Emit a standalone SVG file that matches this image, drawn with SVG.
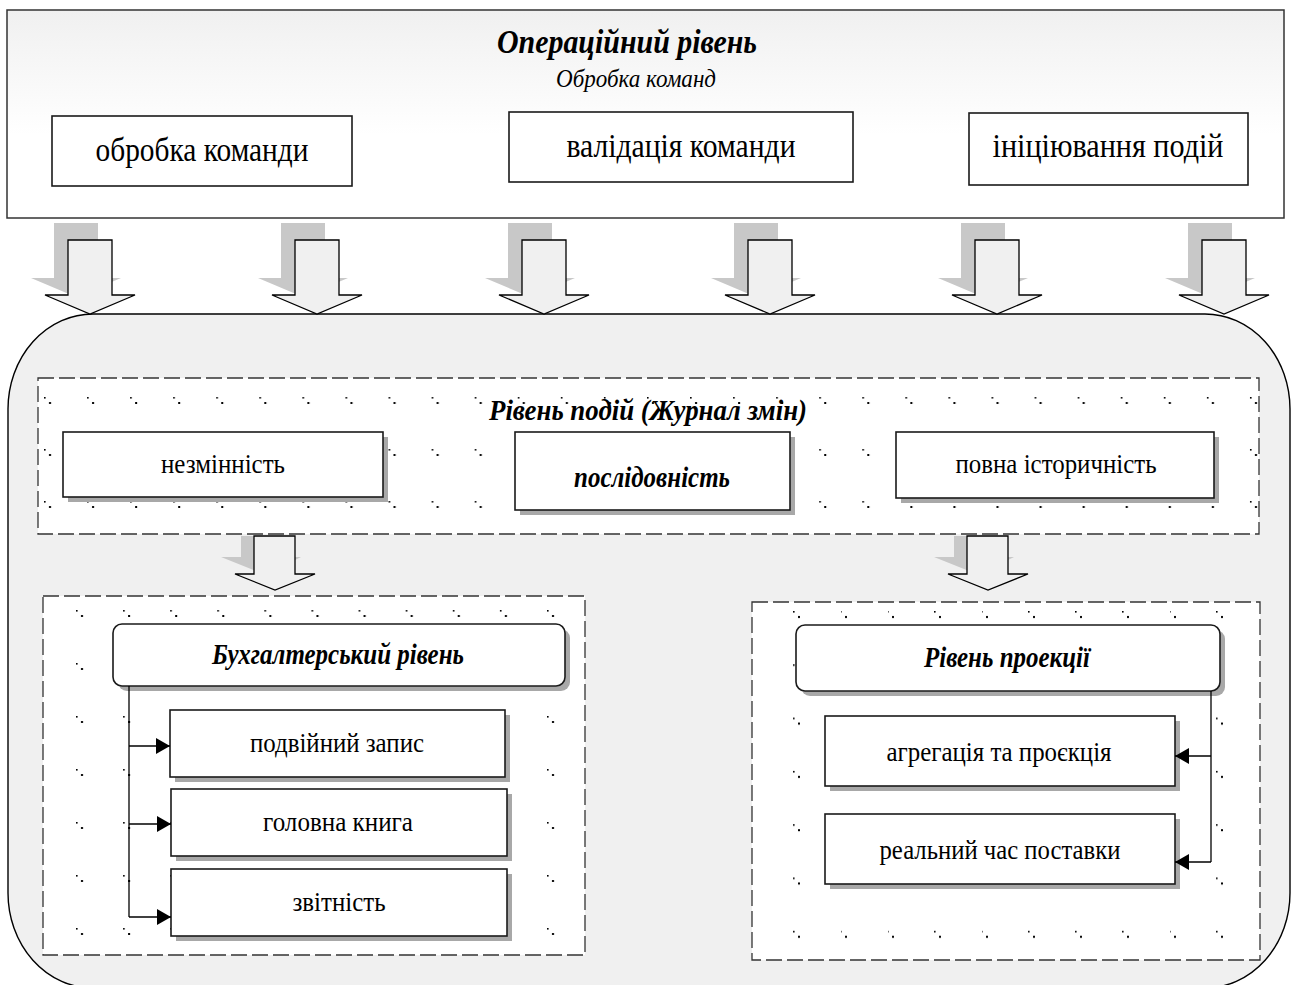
<svg xmlns="http://www.w3.org/2000/svg" width="1291" height="985" viewBox="0 0 1291 985">
<style>
.t{font-family:"Liberation Serif","Times New Roman",serif;fill:#000;text-anchor:middle}
.bi{font-weight:bold;font-style:italic}
.node{fill:#fff;stroke:#1a1a1a;stroke-width:1.6}
.sh{fill:#a8a8a8}
.dash{fill:#fff;stroke:#333;stroke-width:1.3;stroke-dasharray:16 5}
.barrow{fill:#f0f0f0;stroke:#000;stroke-width:1.3}
.bshadow{fill:#c8c8c8}
.conn{fill:none;stroke:#000;stroke-width:1.3}
</style>
<defs>
<linearGradient id="topgrad" x1="0" y1="0" x2="0" y2="1">
<stop offset="0" stop-color="#f0f0f0"/>
<stop offset="0.6" stop-color="#ffffff"/>
<stop offset="1" stop-color="#ffffff"/>
</linearGradient>
<pattern id="dotsA" patternUnits="userSpaceOnUse" x="44" y="397" width="43.07" height="52">
<rect x="0" y="0" width="1.6" height="1.6" fill="#000"/>
<rect x="5" y="5" width="2" height="2" fill="#000"/>
</pattern>
<pattern id="dotsB" patternUnits="userSpaceOnUse" x="76" y="610" width="47.1" height="53">
<rect x="0" y="0" width="1.6" height="1.6" fill="#000"/>
<rect x="5" y="5" width="2" height="2" fill="#000"/>
</pattern>
<pattern id="dotsC" patternUnits="userSpaceOnUse" x="793" y="611" width="47" height="53.3">
<rect x="0" y="0" width="1.6" height="1.6" fill="#000"/>
<rect x="5" y="5" width="2" height="2" fill="#000"/>
</pattern>
<marker id="ah" markerUnits="userSpaceOnUse" markerWidth="15" markerHeight="16" refX="14" refY="8" orient="auto">
<path d="M0,0 L14,8 L0,16 Z" fill="#000"/>
</marker>
</defs>

<!-- Operational level -->
<g id="operational-level">
<rect x="7" y="10" width="1277" height="208" fill="url(#topgrad)" stroke="#333" stroke-width="1.5"/>
<text class="t bi" x="627" y="53" font-size="33" textLength="260" lengthAdjust="spacingAndGlyphs">Операційний рівень</text>
<text class="t" x="636" y="87" font-size="26" font-style="italic" textLength="160" lengthAdjust="spacingAndGlyphs">Обробка команд</text>
</g>
<g id="node-obrobka">
<rect class="node" x="52" y="116" width="300" height="70"/>
<text class="t" x="202" y="161" font-size="34" textLength="213" lengthAdjust="spacingAndGlyphs">обробка команди</text>
</g>
<g id="node-validatsiia">
<rect class="node" x="509" y="112" width="344" height="70"/>
<text class="t" x="681" y="157" font-size="34" textLength="229" lengthAdjust="spacingAndGlyphs">валідація команди</text>
</g>
<g id="node-initsiiuvannia">
<rect class="node" x="969" y="113" width="279" height="72"/>
<text class="t" x="1108" y="157" font-size="34" textLength="231" lengthAdjust="spacingAndGlyphs">ініціювання подій</text>
</g>

<!-- block arrow shadows (top) -->
<g id="top-arrow-shadows">
<path class="bshadow" d="M54,223 H98 V278 H121 L76,297 L31,278 H54 Z"/>
<path class="bshadow" d="M281,223 H325 V278 H348 L303,297 L258,278 H281 Z"/>
<path class="bshadow" d="M508,223 H552 V278 H575 L530,297 L485,278 H508 Z"/>
<path class="bshadow" d="M734,223 H778 V278 H801 L756,297 L711,278 H734 Z"/>
<path class="bshadow" d="M961,223 H1005 V278 H1028 L983,297 L938,278 H961 Z"/>
<path class="bshadow" d="M1188,223 H1232 V278 H1255 L1210,297 L1165,278 H1188 Z"/>
</g>

<!-- big container -->
<g id="container">
<rect x="8" y="314" width="1282" height="674" rx="85" ry="95" fill="#f0f0f0" stroke="#000" stroke-width="1.4"/>
</g>

<!-- top block arrows -->
<g id="top-arrows">
<path class="barrow" d="M68,240 H112 V295 H135 L90,314 L45,295 H68 Z"/>
<path class="barrow" d="M295,240 H339 V295 H362 L317,314 L272,295 H295 Z"/>
<path class="barrow" d="M522,240 H566 V295 H589 L544,314 L499,295 H522 Z"/>
<path class="barrow" d="M748,240 H792 V295 H815 L770,314 L725,295 H748 Z"/>
<path class="barrow" d="M975,240 H1019 V295 H1042 L997,314 L952,295 H975 Z"/>
<path class="barrow" d="M1202,240 H1246 V295 H1269 L1224,314 L1179,295 H1202 Z"/>
</g>

<!-- events level -->
<g id="events-level">
<rect class="dash" x="38" y="378" width="1221" height="156"/>
<rect x="39" y="379" width="1219" height="154" fill="url(#dotsA)"/>
<text class="t bi" x="648" y="420" font-size="30" textLength="318" lengthAdjust="spacingAndGlyphs">Рівень подій (Журнал змін)</text>
</g>
<g id="node-nezminnist">
<rect class="sh" x="68" y="437" width="320" height="65"/>
<rect class="node" x="63" y="432" width="320" height="65"/>
<text class="t" x="223" y="473" font-size="28" textLength="124" lengthAdjust="spacingAndGlyphs">незмінність</text>
</g>
<g id="node-poslidovnist">
<rect class="sh" x="520" y="437" width="275" height="78"/>
<rect class="node" x="515" y="432" width="275" height="78"/>
<text class="t bi" x="652" y="487" font-size="29" textLength="156" lengthAdjust="spacingAndGlyphs">послідовність</text>
</g>
<g id="node-povna">
<rect class="sh" x="901" y="437" width="318" height="66"/>
<rect class="node" x="896" y="432" width="318" height="66"/>
<text class="t" x="1056" y="473" font-size="28" textLength="201" lengthAdjust="spacingAndGlyphs">повна історичність</text>
</g>

<!-- middle block arrows -->
<g id="mid-arrows">
<path class="bshadow" d="M241,536 H254 V557 H282 V557 H301 L295,560 L274,570 L261,573 L221,557 H241 Z"/>
<path class="barrow" d="M254,536 H295 V574 H315 L275,590 L235,574 H254 Z"/>
<path class="bshadow" d="M954,536 H967 V557 H995 V557 H1014 L1008,560 L987,570 L974,573 L934,557 H954 Z"/>
<path class="barrow" d="M967,536 H1008 V574 H1028 L988,590 L948,574 H967 Z"/>
</g>

<!-- accounting level -->
<g id="accounting-level">
<rect class="dash" x="43" y="596" width="542" height="359"/>
<rect x="44" y="597" width="540" height="357" fill="url(#dotsB)"/>
</g>
<g id="node-bukh">
<rect class="sh" x="118" y="629" width="452" height="62" rx="9"/>
<rect class="node" x="113" y="624" width="452" height="62" rx="9"/>
<text class="t bi" x="338" y="664" font-size="29" textLength="252" lengthAdjust="spacingAndGlyphs">Бухгалтерський рівень</text>
</g>
<g id="node-podviinyi">
<rect class="sh" x="175" y="715" width="335" height="67"/>
<rect class="node" x="170" y="710" width="335" height="67"/>
<text class="t" x="337" y="752" font-size="28" textLength="174" lengthAdjust="spacingAndGlyphs">подвійний запис</text>
</g>
<g id="node-holovna">
<rect class="sh" x="176" y="794" width="336" height="67"/>
<rect class="node" x="171" y="789" width="336" height="67"/>
<text class="t" x="338" y="831" font-size="28" textLength="150" lengthAdjust="spacingAndGlyphs">головна книга</text>
</g>
<g id="node-zvitnist">
<rect class="sh" x="176" y="874" width="336" height="67"/>
<rect class="node" x="171" y="869" width="336" height="67"/>
<text class="t" x="339" y="911" font-size="28" textLength="93" lengthAdjust="spacingAndGlyphs">звітність</text>
</g>

<!-- projection level -->
<g id="projection-level">
<rect class="dash" x="752" y="602" width="508" height="358"/>
<rect x="753" y="603" width="506" height="356" fill="url(#dotsC)"/>
</g>
<g id="node-proektsii">
<rect class="sh" x="801" y="630" width="424" height="66" rx="9"/>
<rect class="node" x="796" y="625" width="424" height="66" rx="9"/>
<text class="t bi" x="1007" y="667" font-size="29" textLength="166" lengthAdjust="spacingAndGlyphs">Рівень проекції</text>
</g>
<g id="node-ahrehatsiia">
<rect class="sh" x="830" y="721" width="350" height="70"/>
<rect class="node" x="825" y="716" width="350" height="70"/>
<text class="t" x="999" y="761" font-size="28" textLength="225" lengthAdjust="spacingAndGlyphs">агрегація та проєкція</text>
</g>
<g id="node-realnyi">
<rect class="sh" x="830" y="819" width="350" height="70"/>
<rect class="node" x="825" y="814" width="350" height="70"/>
<text class="t" x="1000" y="859" font-size="28" textLength="241" lengthAdjust="spacingAndGlyphs">реальний час поставки</text>
</g>

<!-- connectors -->
<g id="connectors">
<path class="conn" d="M129,686 V917"/>
<path class="conn" d="M129,746 H170" marker-end="url(#ah)"/>
<path class="conn" d="M129,824 H171" marker-end="url(#ah)"/>
<path class="conn" d="M129,917 H171" marker-end="url(#ah)"/>
<path class="conn" d="M1211,691 V862"/>
<path class="conn" d="M1211,756 H1175" marker-end="url(#ah)"/>
<path class="conn" d="M1211,862 H1175" marker-end="url(#ah)"/>
</g>
</svg>
